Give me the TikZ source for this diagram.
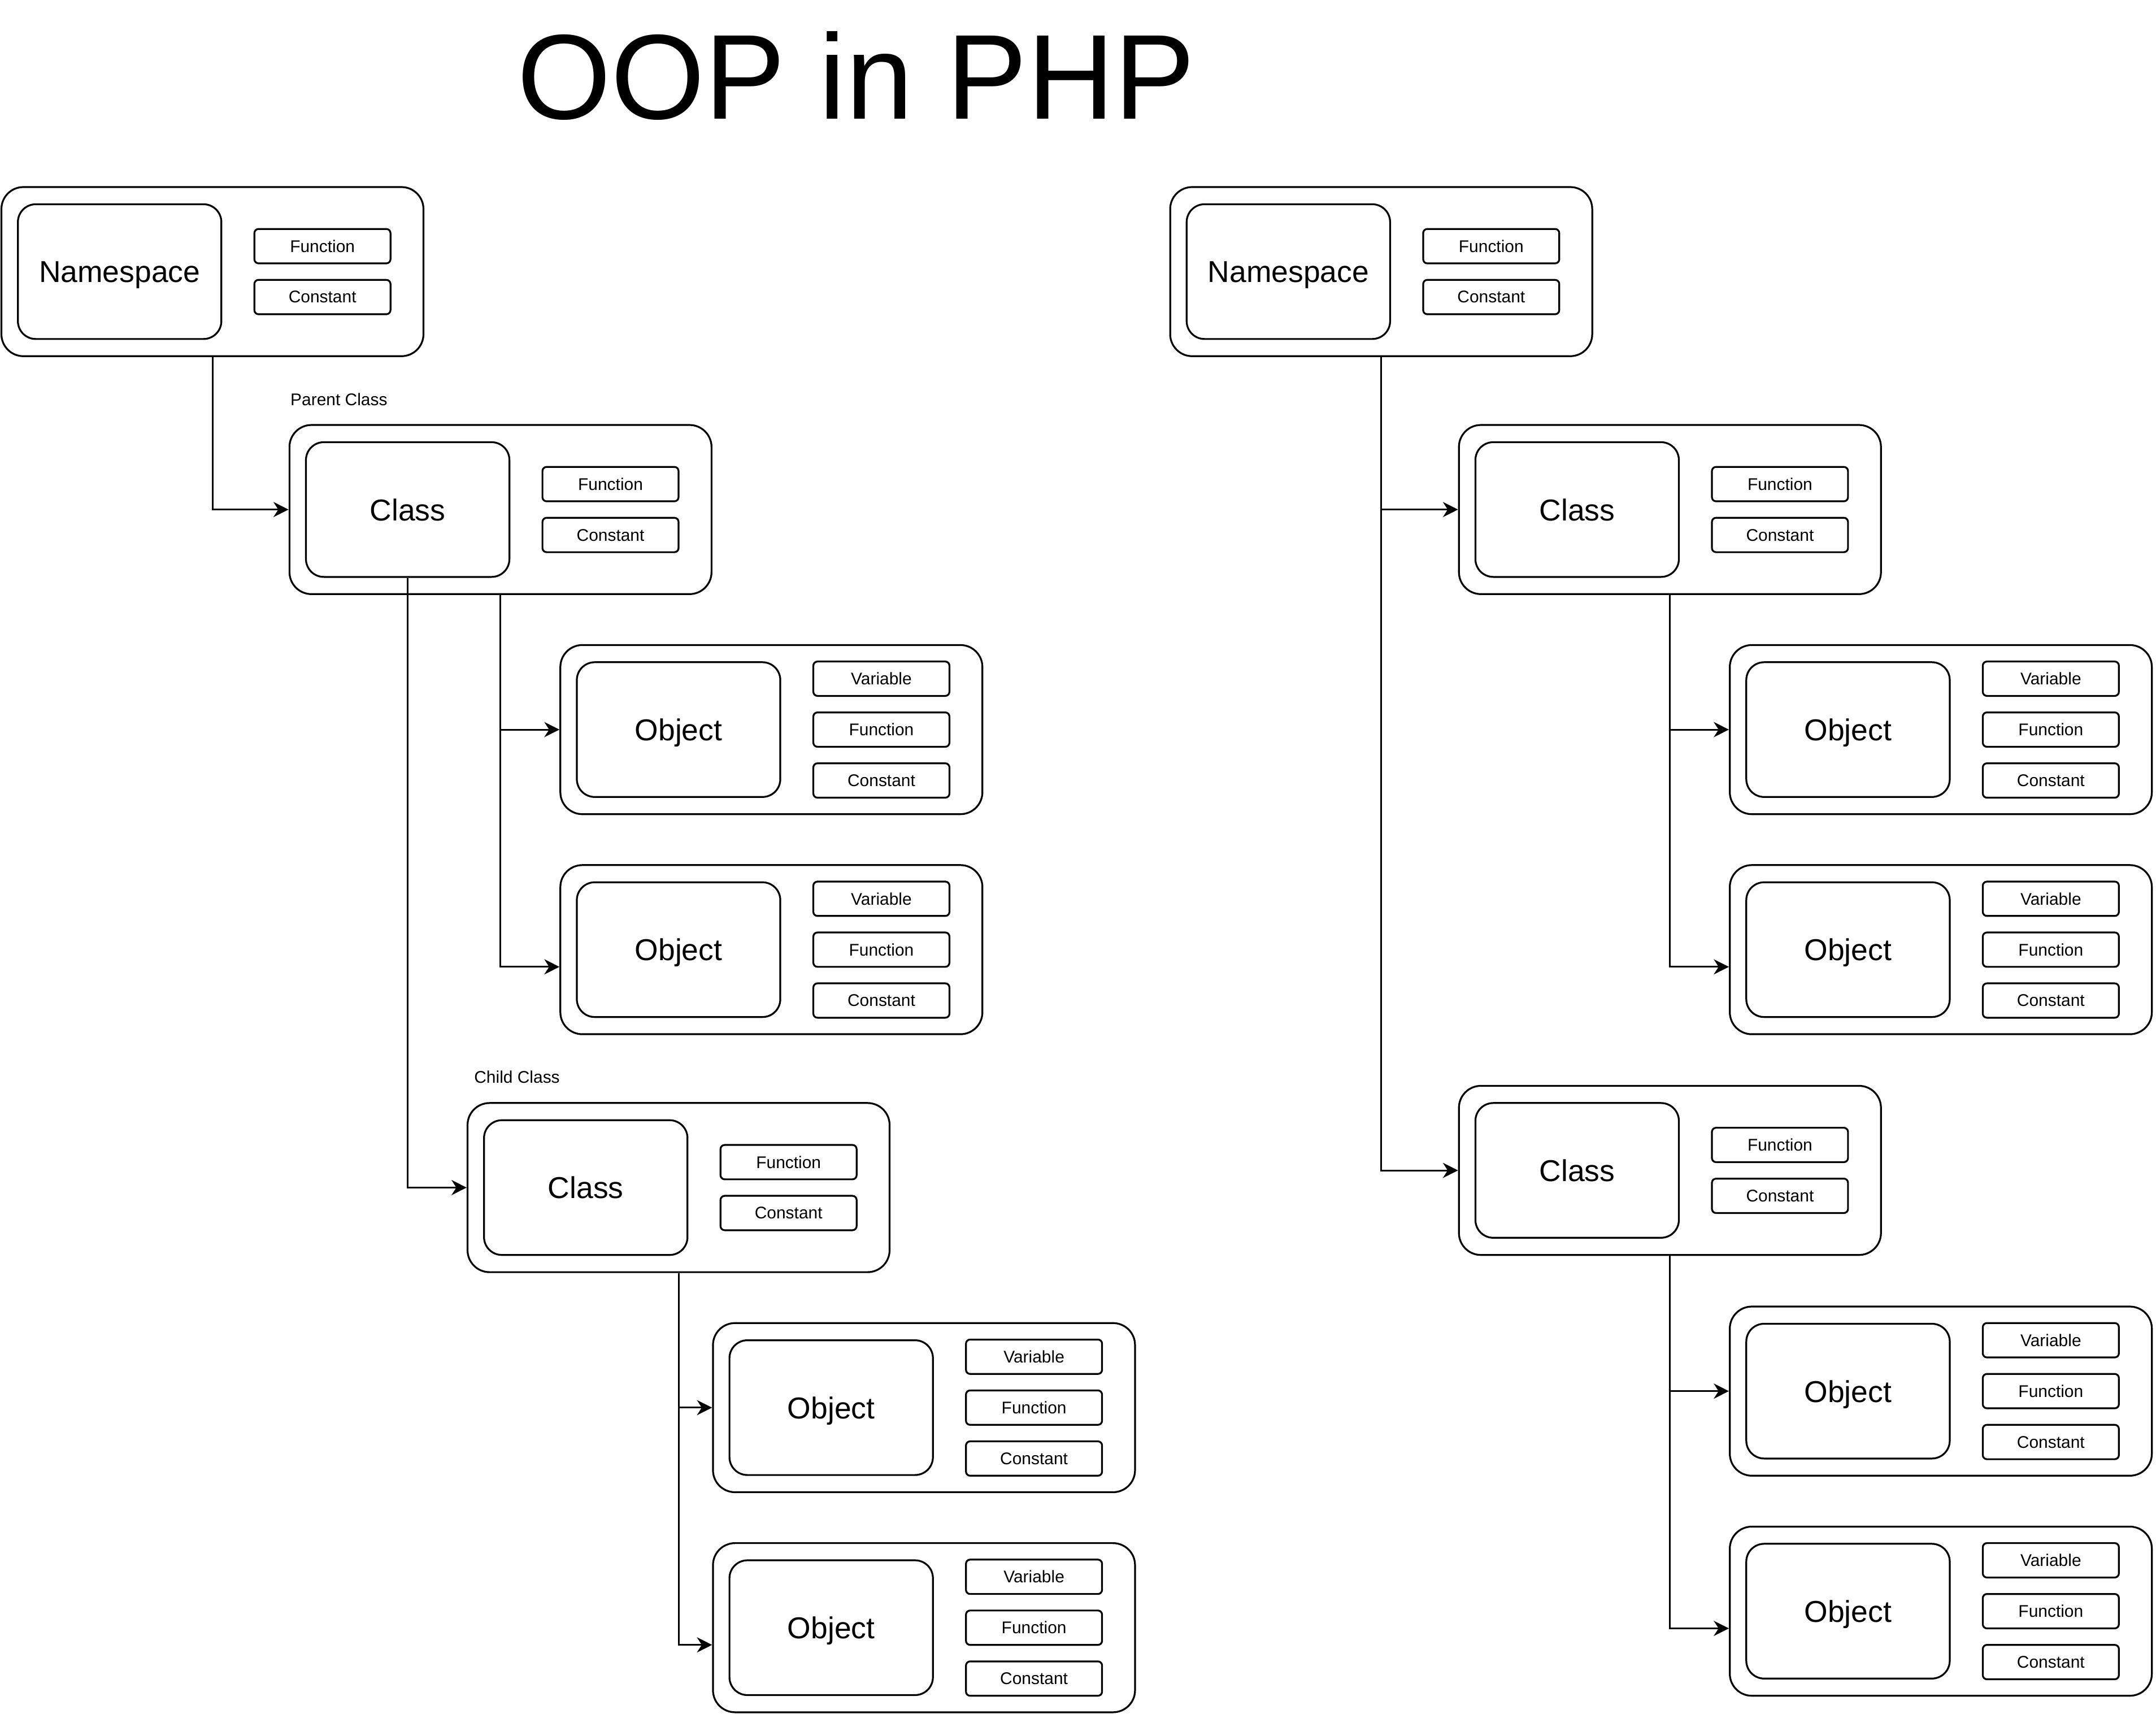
\documentclass[tikz,border=0pt]{standalone}
\usepackage{fontspec}
\setmainfont{Liberation Sans}
\usetikzlibrary{arrows.meta}
\begin{document}
\begin{tikzpicture}[x=0.02cm,y=-0.02cm,
  outerbox/.style={draw,line width=0.75pt,rounded corners=0.32cm,minimum width=6.14cm,minimum height=2.46cm,inner sep=0pt},
  mainbox/.style={draw,line width=0.75pt,rounded corners=0.26cm,minimum width=2.96cm,minimum height=1.96cm,inner sep=0pt,text depth=0pt,font=\fontsize{12.5}{15}\selectfont},
  memberbox/.style={draw,line width=0.75pt,rounded corners=0.06cm,minimum width=1.98cm,minimum height=0.5cm,inner sep=0pt,font=\fontsize{7}{8}\selectfont},
  lbl/.style={inner sep=0pt,font=\fontsize{7}{8}\selectfont},
  arr/.style={line width=0.7pt,-{Stealth[length=0.22cm,width=0.22cm,inset=0.07cm]}}]
\useasboundingbox (0,0) rectangle (1568,1246);
\node[anchor=base,inner sep=0pt,font=\fontsize{50}{60}\selectfont] (title) at (622.6,86.3) {OOP in PHP};
% left side
\node[outerbox] (ns1) at (154.5,197.5) {};
\node[mainbox] (ns1main) at (87,197.5) {Namespace};
\node[memberbox] (ns1fn) at (234.5,179) {Function};
\node[memberbox] (ns1const) at (234.5,216) {Constant};
\node[lbl] (parentlbl) at (246.5,290.5) {Parent Class};
\node[outerbox] (cls1) at (364,370.5) {};
\node[mainbox] (cls1main) at (296.5,370.5) {Class};
\node[memberbox] (cls1fn) at (444,352) {Function};
\node[memberbox] (cls1const) at (444,389) {Constant};
\node[outerbox] (obj1) at (561,530.5) {};
\node[mainbox] (obj1main) at (493.5,530.5) {Object};
\node[memberbox] (obj1var) at (641,493.5) {Variable};
\node[memberbox] (obj1fn) at (641,530.5) {Function};
\node[memberbox] (obj1const) at (641,567.5) {Constant};
\node[outerbox] (obj2) at (561,690.5) {};
\node[mainbox] (obj2main) at (493.5,690.5) {Object};
\node[memberbox] (obj2var) at (641,653.5) {Variable};
\node[memberbox] (obj2fn) at (641,690.5) {Function};
\node[memberbox] (obj2const) at (641,727.5) {Constant};
\node[lbl] (childlbl) at (376,783) {Child Class};
\node[outerbox] (cls2) at (493.5,863.5) {};
\node[mainbox] (cls2main) at (426,863.5) {Class};
\node[memberbox] (cls2fn) at (573.5,845) {Function};
\node[memberbox] (cls2const) at (573.5,882) {Constant};
\node[outerbox] (obj3) at (672,1023.5) {};
\node[mainbox] (obj3main) at (604.5,1023.5) {Object};
\node[memberbox] (obj3var) at (752,986.5) {Variable};
\node[memberbox] (obj3fn) at (752,1023.5) {Function};
\node[memberbox] (obj3const) at (752,1060.5) {Constant};
\node[outerbox] (obj4) at (672,1183.5) {};
\node[mainbox] (obj4main) at (604.5,1183.5) {Object};
\node[memberbox] (obj4var) at (752,1146.5) {Variable};
\node[memberbox] (obj4fn) at (752,1183.5) {Function};
\node[memberbox] (obj4const) at (752,1220.5) {Constant};
\draw[arr] (ns1.south) |- (cls1.west);
\draw[arr] (cls1.south) |- (obj1.west);
\draw[arr] (cls1.south) |- ([yshift=-0.25cm]obj2.west);
\draw[arr] (cls1main.south) |- (cls2.west);
\draw[arr] (cls2.south) |- (obj3.west);
\draw[arr] (cls2.south) |- ([yshift=-0.25cm]obj4.west);
% right side
\node[outerbox] (ns2) at (1004.5,197.5) {};
\node[mainbox] (ns2main) at (937,197.5) {Namespace};
\node[memberbox] (ns2fn) at (1084.5,179) {Function};
\node[memberbox] (ns2const) at (1084.5,216) {Constant};
\node[outerbox] (clsA) at (1214.5,370.5) {};
\node[mainbox] (clsAmain) at (1147,370.5) {Class};
\node[memberbox] (clsAfn) at (1294.5,352) {Function};
\node[memberbox] (clsAconst) at (1294.5,389) {Constant};
\node[outerbox] (objA1) at (1411.5,530.5) {};
\node[mainbox] (objA1main) at (1344,530.5) {Object};
\node[memberbox] (objA1var) at (1491.5,493.5) {Variable};
\node[memberbox] (objA1fn) at (1491.5,530.5) {Function};
\node[memberbox] (objA1const) at (1491.5,567.5) {Constant};
\node[outerbox] (objA2) at (1411.5,690.5) {};
\node[mainbox] (objA2main) at (1344,690.5) {Object};
\node[memberbox] (objA2var) at (1491.5,653.5) {Variable};
\node[memberbox] (objA2fn) at (1491.5,690.5) {Function};
\node[memberbox] (objA2const) at (1491.5,727.5) {Constant};
\node[outerbox] (clsB) at (1214.5,851) {};
\node[mainbox] (clsBmain) at (1147,851) {Class};
\node[memberbox] (clsBfn) at (1294.5,832.5) {Function};
\node[memberbox] (clsBconst) at (1294.5,869.5) {Constant};
\node[outerbox] (objB1) at (1411.5,1011.5) {};
\node[mainbox] (objB1main) at (1344,1011.5) {Object};
\node[memberbox] (objB1var) at (1491.5,974.5) {Variable};
\node[memberbox] (objB1fn) at (1491.5,1011.5) {Function};
\node[memberbox] (objB1const) at (1491.5,1048.5) {Constant};
\node[outerbox] (objB2) at (1411.5,1171.5) {};
\node[mainbox] (objB2main) at (1344,1171.5) {Object};
\node[memberbox] (objB2var) at (1491.5,1134.5) {Variable};
\node[memberbox] (objB2fn) at (1491.5,1171.5) {Function};
\node[memberbox] (objB2const) at (1491.5,1208.5) {Constant};
\draw[arr] (ns2.south) |- (clsA.west);
\draw[arr] (ns2.south) |- (clsB.west);
\draw[arr] (clsA.south) |- (objA1.west);
\draw[arr] (clsA.south) |- ([yshift=-0.25cm]objA2.west);
\draw[arr] (clsB.south) |- (objB1.west);
\draw[arr] (clsB.south) |- ([yshift=-0.25cm]objB2.west);
\end{tikzpicture}
\end{document}
